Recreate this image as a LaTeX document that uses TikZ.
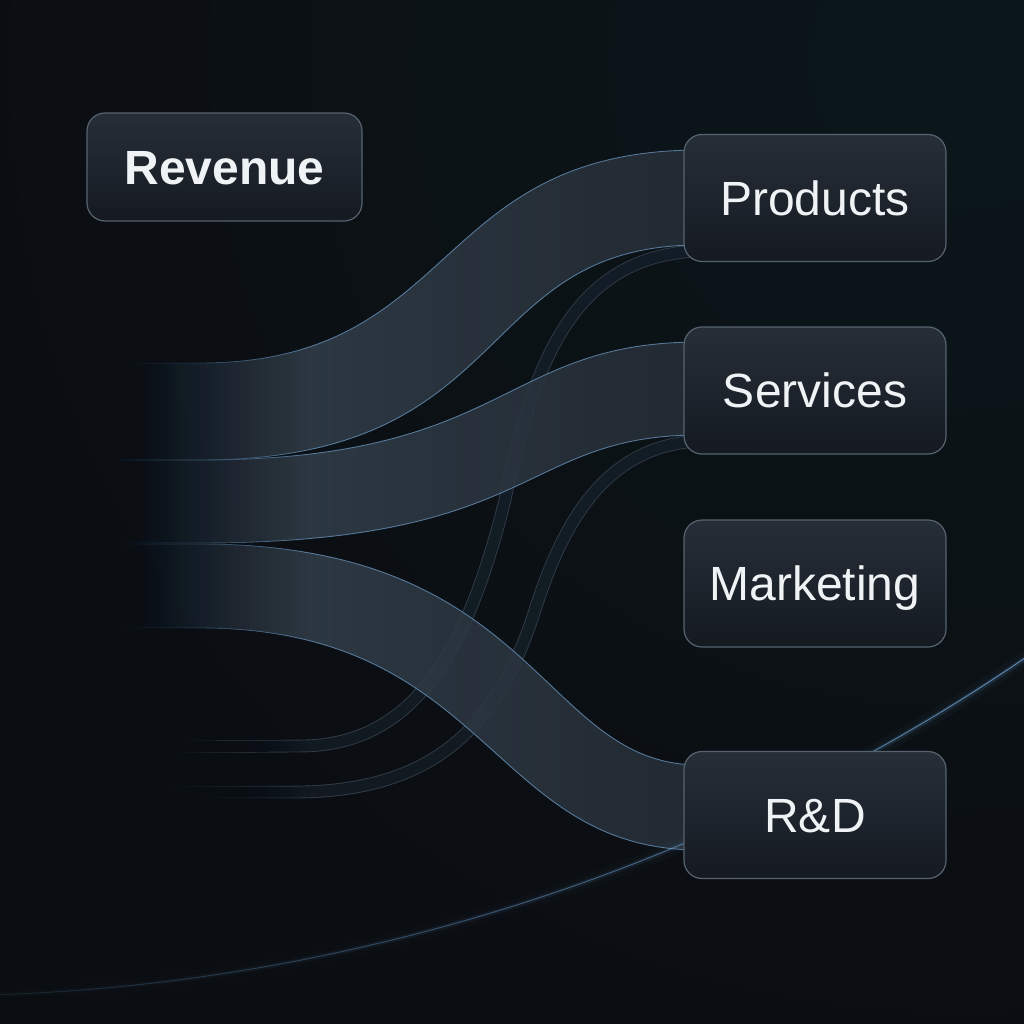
\documentclass[tikz,border=0pt]{standalone}
\usepackage{fontspec}
\setmainfont{Liberation Sans}
\usetikzlibrary{calc,fadings}
\pgfdeclarelayer{back}
\pgfsetlayers{back,main}

\definecolor{bg}{HTML}{0A0D11}
\definecolor{boxtop}{HTML}{262E38}
\definecolor{boxbot}{HTML}{151A21}
\definecolor{boxline}{HTML}{56636F}
\definecolor{labeltext}{HTML}{F0F3F6}
\definecolor{bandleft}{HTML}{3A4957}
\definecolor{bandright}{HTML}{262F38}
\definecolor{bandline}{HTML}{6189AE}
\definecolor{ribfill}{HTML}{121920}
\definecolor{ribedge}{HTML}{323D48}
\definecolor{arcline}{HTML}{6A9CCC}
\definecolor{haze}{HTML}{8A9BB0}

\tikzfading[name=faderight, left color=transparent!100, right color=transparent!0]

\begin{document}
\begin{tikzpicture}[x=1pt,y=-1pt,
  box/.style={draw=boxline, line width=1.2pt, rounded corners=18pt,
    top color=boxtop, bottom color=boxbot, text=labeltext,
    minimum width=262pt, minimum height=127pt,
    text height=34.5pt, text depth=0pt,
    font=\fontsize{48}{56}\selectfont},
  band/.style={left color=bandleft, right color=bandright, fill opacity=0.86},
  bandedge/.style={draw=bandline, line width=0.9pt, draw opacity=0.85},
  ribbon/.style={draw=ribedge, line width=0.9pt, double=ribfill, double distance=11pt},
  arcglow/.style={draw=arcline, line cap=round}]
\useasboundingbox (0,0) rectangle (1024,1024);

% boxes
\node[box, minimum width=275pt, minimum height=108pt,
  font=\bfseries\fontsize{48}{56}\selectfont] (rev) at (224.5,167) {Revenue};
\node[box] (prod) at (815,198) {Products};
\node[box] (serv) at (815,390.5) {Services};
\node[box] (mkt) at (815,583.5) {Marketing};
\node[box] (rnd) at (815,815) {R\&D};

% free ends on the left, ends at the boxes
\coordinate (s1a) at (40,363);
\coordinate (s1b) at (40,460);
\coordinate (s2a) at (40,460);
\coordinate (s2b) at (40,543);
\coordinate (s3a) at (40,544);
\coordinate (s3b) at (40,628);
\coordinate (s4) at (40,748);
\coordinate (s5) at (40,792);
\coordinate (p1a) at ($(prod.west)+(16,-48)$);
\coordinate (p1b) at ($(prod.west)+(16,47)$);
\coordinate (p2a) at ($(serv.west)+(16,-48.5)$);
\coordinate (p2b) at ($(serv.west)+(16,44.5)$);
\coordinate (p3a) at ($(rnd.west)+(16,-50)$);
\coordinate (p3b) at ($(rnd.west)+(16,35)$);
\coordinate (p4) at ($(prod.west)+(16,53)$);
\coordinate (p5) at ($(serv.west)+(16,50.5)$);

\begin{pgfonlayer}{back}
\fill[bg] (0,0) rectangle (1024,1024);

% thin ribbons
\draw[ribbon] (s4) -- (300,746) .. controls (420,746) and (470,640) .. (505,500)
  .. controls (535,350) and (580,255) .. (p4);
\draw[ribbon] (s5) -- (300,792) .. controls (440,790) and (500,720) .. (535,610)
  .. controls (565,515) and (610,445) .. (p5);

% bands
\shade[band] (s1a) -- (200,363) .. controls (460,363) and (430,150) .. (p1a)
  -- (p1b) .. controls (470,245) and (520,460) .. (200,460) -- (s1b) -- cycle;
\shade[band] (s2a) -- (200,460) .. controls (510,460) and (500,342) .. (p2a)
  -- (p2b) .. controls (520,435) and (540,543) .. (200,543) -- (s2b) -- cycle;
\shade[band] (s3a) -- (200,544) .. controls (540,544) and (540,765) .. (p3a)
  -- (p3b) .. controls (490,850) and (490,628) .. (200,628) -- (s3b) -- cycle;
\draw[bandedge] (s1a) -- (200,363) .. controls (460,363) and (430,150) .. (p1a);
\draw[bandedge] (s1b) -- (200,460) .. controls (520,460) and (470,245) .. (p1b);
\draw[bandedge] (s2a) -- (200,460) .. controls (510,460) and (500,342) .. (p2a);
\draw[bandedge] (s2b) -- (200,543) .. controls (540,543) and (520,435) .. (p2b);
\draw[bandedge] (s3a) -- (200,544) .. controls (540,544) and (540,765) .. (p3a);
\draw[bandedge] (s3b) -- (200,628) .. controls (490,628) and (490,850) .. (p3b);

% fade on the left
\foreach \i in {1,...,48}
  \fill[bg, fill opacity={1/\i}] (0,0) rectangle ({70+5*\i},1024);

% soft light in the upper right
\foreach \r in {150,250,...,950}
  \fill[haze, fill opacity=0.008] (960,60) circle[radius=\r];

% horizon glow
\draw[arcglow, line width=14pt, draw opacity=0.05, path fading=faderight]
  plot[smooth, domain=54:93, samples=40] ({-71+1953*cos(\x)}, {-957+1953*sin(\x)});
\draw[arcglow, line width=5pt, draw opacity=0.14, path fading=faderight]
  plot[smooth, domain=54:93, samples=40] ({-71+1953*cos(\x)}, {-957+1953*sin(\x)});
\draw[arcglow, line width=1pt, draw opacity=0.85, path fading=faderight]
  plot[smooth, domain=54:93, samples=40] ({-71+1953*cos(\x)}, {-957+1953*sin(\x)});
\end{pgfonlayer}
\end{tikzpicture}
\end{document}
